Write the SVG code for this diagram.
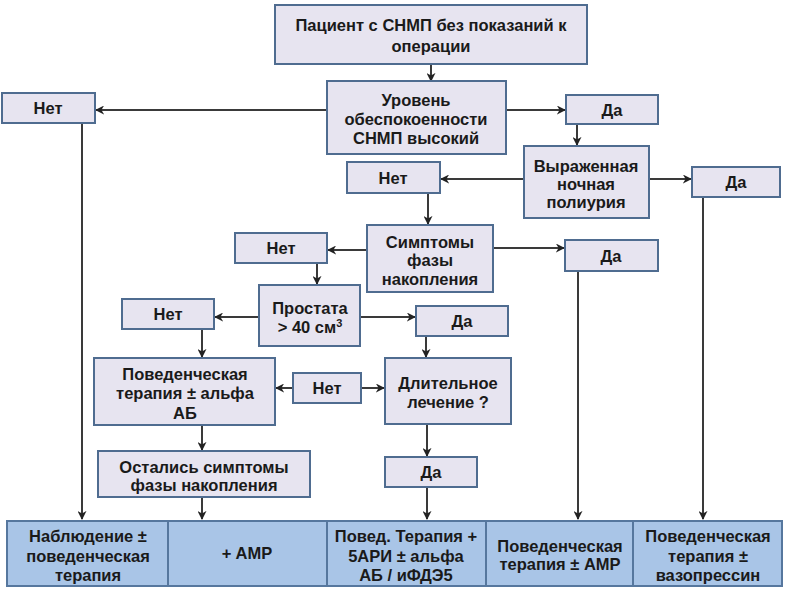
<svg xmlns="http://www.w3.org/2000/svg" width="787" height="593" viewBox="0 0 787 593">
<defs>
<marker id="ah" viewBox="0 0 10 10" refX="9" refY="5" markerWidth="4.5" markerHeight="4.5" orient="auto" markerUnits="strokeWidth">
<path d="M0,0 L10,5 L0,10 L3,5 Z" fill="#222"/>
</marker>
<style>
.n{fill:#e7e4f0;stroke:#4f6c90;stroke-width:2}
.b{fill:#a9c5e7;stroke:#56779e;stroke-width:2}
text{font-family:"Liberation Sans",Arial,sans-serif;font-weight:bold;font-size:16.5px;fill:#1a1a1a;text-anchor:middle}
.c{fill:none;stroke:#3a3a3a;stroke-width:2;marker-end:url(#ah)}
</style>
</defs>
<rect width="787" height="593" fill="#ffffff"/>

<g id="connectors">
<path class="c" d="M431,64 V81"/>
<path class="c" d="M327,110 H96"/>
<path class="c" d="M82,123 V519"/>
<path class="c" d="M506,110 H565"/>
<path class="c" d="M577,124 V145"/>
<path class="c" d="M524,179 H441"/>
<path class="c" d="M649,179 H691"/>
<path class="c" d="M703,197 V519"/>
<path class="c" d="M428,193 V224"/>
<path class="c" d="M493,248 H564"/>
<path class="c" d="M578,271 V519"/>
<path class="c" d="M367,250 H328"/>
<path class="c" d="M317,263 V284"/>
<path class="c" d="M259,317 H215"/>
<path class="c" d="M360,317 H415"/>
<path class="c" d="M202,329 V357"/>
<path class="c" d="M426,336 V357"/>
<path class="c" d="M293,388 H276"/>
<path class="c" d="M361,388 H384"/>
<path class="c" d="M202,425 V450"/>
<path class="c" d="M202,497 V519"/>
<path class="c" d="M427,424 V456"/>
<path class="c" d="M427,487 V519"/>
</g>

<g id="start"><rect class="n" x="275" y="5" width="312" height="59"/>
<text x="431" y="31">Пациент с СНМП без показаний к</text>
<text x="431" y="52">операции</text></g>

<g id="level"><rect class="n" x="327" y="81" width="179" height="73"/>
<text x="416" y="106">Уровень</text>
<text x="416" y="125">обеспокоенности</text>
<text x="416" y="144">СНМП высокий</text></g>

<g id="no1"><rect class="n" x="2" y="93" width="93" height="30"/><text x="48" y="114">Нет</text></g>
<g id="yes1"><rect class="n" x="566" y="95" width="92" height="29"/><text x="612" y="116">Да</text></g>

<g id="polyuria"><rect class="n" x="524" y="146" width="125" height="72"/>
<text x="586" y="172">Выраженная</text>
<text x="586" y="190">ночная</text>
<text x="586" y="208">полиурия</text></g>

<g id="no2"><rect class="n" x="347" y="162" width="93" height="31"/><text x="393" y="184">Нет</text></g>
<g id="yes2"><rect class="n" x="692" y="167" width="88" height="30"/><text x="736" y="188">Да</text></g>

<g id="storage"><rect class="n" x="367" y="225" width="126" height="67"/>
<text x="430" y="248">Симптомы</text>
<text x="430" y="266">фазы</text>
<text x="430" y="285">накопления</text></g>

<g id="yes3"><rect class="n" x="565" y="240" width="93" height="31"/><text x="611" y="262">Да</text></g>
<g id="no3"><rect class="n" x="235" y="233" width="92" height="30"/><text x="281" y="254">Нет</text></g>

<g id="prostate"><rect class="n" x="259" y="285" width="101" height="61"/>
<text x="310" y="314">Простата</text>
<text x="310" y="333">&gt; 40 см<tspan font-size="11" baseline-shift="super">3</tspan></text></g>

<g id="no4"><rect class="n" x="122" y="299" width="92" height="30"/><text x="168" y="320">Нет</text></g>
<g id="yes4"><rect class="n" x="416" y="306" width="92" height="30"/><text x="462" y="327">Да</text></g>

<g id="behav"><rect class="n" x="94" y="358" width="181" height="67"/>
<text x="185" y="380">Поведенческая</text>
<text x="185" y="399">терапия ± альфа</text>
<text x="185" y="419">АБ</text></g>

<g id="no5"><rect class="n" x="293" y="373" width="68" height="30"/><text x="327" y="394">Нет</text></g>

<g id="longterm"><rect class="n" x="385" y="358" width="126" height="66"/>
<text x="448" y="389">Длительное</text>
<text x="448" y="408">лечение ?</text></g>

<g id="remain"><rect class="n" x="98" y="451" width="212" height="46"/>
<text x="204" y="473">Остались симптомы</text>
<text x="204" y="491">фазы накопления</text></g>

<g id="yes5"><rect class="n" x="385" y="457" width="92" height="30"/><text x="431" y="478">Да</text></g>

<g id="out1"><rect class="b" x="7" y="521" width="161" height="65"/>
<text x="88" y="542">Наблюдение ±</text>
<text x="88" y="562">поведенческая</text>
<text x="88" y="581">терапия</text></g>
<g id="out2"><rect class="b" x="168" y="521" width="159" height="65"/>
<text x="247" y="559">+ AMP</text></g>
<g id="out3"><rect class="b" x="327" y="521" width="159" height="65"/>
<text x="406" y="542">Повед. Терапия +</text>
<text x="406" y="562">5АРИ ± альфа</text>
<text x="406" y="581">АБ / иФДЭ5</text></g>
<g id="out4"><rect class="b" x="486" y="521" width="147" height="65"/>
<text x="560" y="552">Поведенческая</text>
<text x="560" y="570">терапия ± AMP</text></g>
<g id="out5"><rect class="b" x="633" y="521" width="149" height="65"/>
<text x="708" y="542">Поведенческая</text>
<text x="708" y="562">терапия ±</text>
<text x="708" y="581">вазопрессин</text></g>
</svg>
